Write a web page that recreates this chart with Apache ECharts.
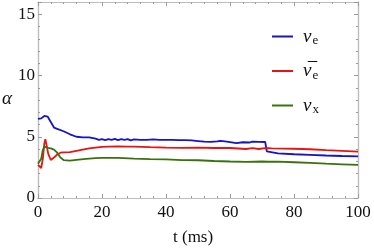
<!DOCTYPE html>
<html><head><meta charset="utf-8">
<script src="https://cdn.jsdelivr.net/npm/echarts@6/dist/echarts.min.js"></script>
<style>html,body{margin:0;padding:0;background:#fff}#c{width:374px;height:249px}</style>
</head><body><div id="c"></div>
<script>
const xTicks = [0, 20, 40, 60, 80, 100];
const yTicks = [0, 5, 10, 15];
const seriesNames = ['nue', 'nuebar', 'nux'];
const nueData = [[0,6.45],[1,6.5],[2,6.7],[3,6.65],[4,6.2],[5,5.75],[6,5.65],[8,5.45],[10,5.2],[12,5.0],[14,4.95],[16,4.95],[18,4.85],[19,4.75],[20,4.8],[21,4.72],[22,4.8],[23,4.75],[24,4.82],[25,4.72],[26,4.8],[27,4.75],[28,4.8],[29,4.7],[30,4.78],[32,4.75],[34,4.75],[36,4.78],[38,4.75],[40,4.74],[42,4.75],[44,4.72],[46,4.72],[48,4.7],[50,4.65],[52,4.6],[54,4.58],[56,4.62],[57,4.67],[59,4.6],[61,4.52],[62,4.48],[64,4.55],[66,4.53],[67,4.6],[69,4.58],[71,4.57],[71.5,3.8],[72,3.7],[75,3.65],[80,3.57],[85,3.52],[90,3.47],[95,3.43],[100,3.4]];
const nuebarData = [[0,2.7],[0.5,2.6],[1,2.45],[1.5,3.2],[2,4.5],[2.3,4.8],[2.7,4.3],[3.2,3.6],[4,3.1],[5,3.3],[6,3.55],[7,3.7],[8,3.72],[10,3.75],[12,3.85],[14,3.95],[16,4.05],[18,4.12],[20,4.18],[22,4.2],[25,4.22],[28,4.2],[30,4.2],[35,4.15],[40,4.12],[45,4.1],[50,4.12],[55,4.08],[60,4.08],[65,4.0],[67,4.08],[69,4.0],[71,4.08],[73,4.05],[80,4.02],[85,3.98],[90,3.9],[95,3.85],[100,3.78]];
const nuxData = [[0,2.8],[0.5,3.0],[1,3.2],[1.5,3.9],[2,4.2],[2.5,4.25],[3,4.1],[4,4.05],[5,3.95],[6,3.7],[7,3.3],[8,3.1],[10,3.05],[12,3.12],[15,3.2],[18,3.25],[20,3.28],[25,3.27],[30,3.22],[35,3.18],[40,3.15],[45,3.1],[50,3.08],[55,3.02],[60,2.98],[65,2.95],[70,2.98],[72,2.96],[75,2.97],[80,2.92],[85,2.86],[90,2.8],[95,2.75],[100,2.7]];

const SERIF = '"Liberation Serif", "DejaVu Serif", serif';
const frame = '#bdbdbd';
const tickCol = '#9a9a9a';
function xAx(pos, major, labels) {
  return {
    type: 'value', position: pos, min: 0, max: 100, interval: major ? 20 : 4,
    axisLine: { show: true, onZero: false, lineStyle: { color: frame, width: 1.2 } },
    axisTick: { show: true, inside: true, length: major ? 4 : 2, lineStyle: { color: tickCol } },
    axisLabel: { show: labels, color: '#111', fontFamily: SERIF, fontSize: 17, margin: 6 },
    splitLine: { show: false }
  };
}
function yAx(pos, major, labels) {
  return {
    type: 'value', position: pos, min: 0, max: 16, interval: major ? 5 : 1,
    axisLine: { show: true, onZero: false, lineStyle: { color: frame, width: 1.2 } },
    axisTick: { show: true, inside: true, length: major ? 4 : 2, lineStyle: { color: tickCol } },
    axisLabel: { show: labels, color: '#111', fontFamily: SERIF, fontSize: 17, margin: 3,
      formatter: v => (yTicks.indexOf(v) >= 0 ? String(v) : '') },
    splitLine: { show: false }
  };
}
const legendRich = {
  n: { fontFamily: SERIF, fontStyle: 'italic', fontSize: 19, color: '#111', padding: [0, 0, 0, 5] },
  s: { fontFamily: SERIF, fontSize: 13, color: '#111', padding: [9, 0, 0, 1] }
};
const labelMap = {
  nue: '{n|ν}{s|e}',
  nuebar: '{n|ν\u0305}{s|e}',
  nux: '{n|ν}{s|x}'
};
const colors = ['#1414c8', '#e81414', '#3c700c'];
const chart = echarts.init(document.getElementById('c'), null, { renderer: 'canvas' });
chart.setOption({
  animation: false,
  backgroundColor: '#fff',
  grid: { left: 38, right: 16, top: 2, bottom: 51, containLabel: false },
  xAxis: [xAx('bottom', true, true), xAx('bottom', false, false), xAx('top', true, false), xAx('top', false, false)],
  yAxis: [yAx('left', true, true), yAx('left', false, false), yAx('right', true, false), yAx('right', false, false)],
  legend: {
    orient: 'vertical', left: 267, top: 22, itemWidth: 21, itemHeight: 2, itemGap: 14,
    icon: 'rect', data: seriesNames,
    formatter: name => labelMap[name],
    textStyle: { rich: legendRich }
  },
  graphic: [
    { type: 'text', left: 2, top: 89, style: { text: 'α', font: 'italic 19px ' + SERIF, fill: '#111' } },
    { type: 'text', left: 173, top: 229, style: { text: 't (ms)', font: '17px ' + SERIF, fill: '#111' } }
  ],
  series: [
    { name: 'nue', type: 'line', data: nueData, showSymbol: false, lineStyle: { width: 1.8, color: colors[0] }, itemStyle: { color: colors[0] } },
    { name: 'nuebar', type: 'line', data: nuebarData, showSymbol: false, lineStyle: { width: 1.8, color: colors[1] }, itemStyle: { color: colors[1] } },
    { name: 'nux', type: 'line', data: nuxData, showSymbol: false, lineStyle: { width: 1.8, color: colors[2] }, itemStyle: { color: colors[2] } }
  ]
});
</script></body></html>
